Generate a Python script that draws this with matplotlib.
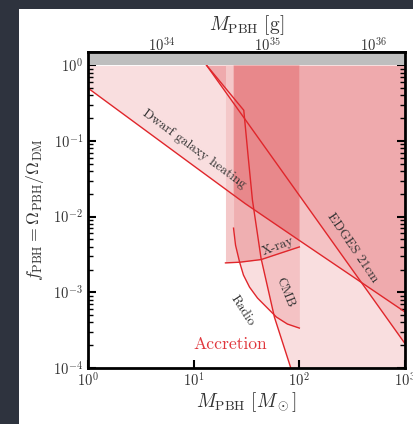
import numpy as np
import matplotlib
matplotlib.use("Agg")
import matplotlib.pyplot as plt
from matplotlib.patches import Rectangle
from matplotlib.ticker import LogLocator, NullLocator, FixedLocator

plt.rcParams.update({
    "font.family": "serif",
    "font.serif": ["cmr10", "DejaVu Serif"],
    "mathtext.fontset": "cm",
    "axes.formatter.use_mathtext": True,
    "axes.unicode_minus": False,
})

# Constraint boundaries on f_PBH versus PBH mass (solar masses)
dwarf_mass = [1, 10, 30.7, 100, 1000]
dwarf_f = [0.50, 0.047, 0.0149, 4.85e-3, 5.5e-4]

edges_mass = [13.25, 1000]
edges_f = [1.0, 2.1e-4]

cmb_mass = [13.26, 29.8, 32.7, 36.0, 43.4, 58.1, 82.3, 120, 1000]
cmb_f = [1.0, 0.2547, 0.0648, 0.0165, 2.83e-3, 4.7e-4, 1.04e-4, 1.5e-5, 1e-8]

xray_mass = [20, 27.2, 43.5, 64.8, 100]
xray_f = [2.45e-3, 2.5e-3, 2.71e-3, 3.26e-3, 3.98e-3]

radio_mass = [23.84, 24.9, 27.2, 29.6, 33.8, 40.2, 49.9, 60.7, 77.1, 100]
radio_f = [7.05e-3, 4.2e-3, 2.51e-3, 1.69e-3, 1.17e-3, 8.4e-4, 6.2e-4, 4.71e-4, 3.81e-4, 3.37e-4]

MSUN_G = 1.989e33
gram_ticks = [1e34, 1e35, 1e36]

labels = ["Dwarf galaxy heating", "X-ray", "CMB", "Radio", "EDGES 21cm"]
label_mass = [10, 63, 73, 29, 316]
label_f = [0.0778, 4.0e-3, 1.0e-3, 5.8e-4, 3.9e-3]
label_rot = [-36.2, 21, -68, -57, -55.7]

RED = "#d9262b"
LINE = "#e0262b"
TXT = "#333333"

fig = plt.figure(figsize=(4.14, 4.24), dpi=100, facecolor="#2e333e")
panel = Rectangle((19 / 414, 0), 1, 1 - 9 / 424, transform=fig.transFigure,
                  facecolor="white", edgecolor="none", zorder=-10)
fig.add_artist(panel)
ax = fig.add_axes([88 / 414, 1 - 368 / 424, (405 - 88) / 414, (368 - 52) / 424])
ax.set_zorder(1)
ax.set_facecolor("white")
ax.set_xscale("log")
ax.set_yscale("log")
ax.set_xlim(1, 1000)
ax.set_ylim(1e-4, 1.5)

# excluded regions
ax.fill_between(dwarf_mass, dwarf_f, 1, color=RED, alpha=0.15, lw=0, zorder=1)
ax.fill_between(edges_mass, edges_f, 1, color=RED, alpha=0.15, lw=0, zorder=1)
ax.fill_between(cmb_mass, cmb_f, 1, color=RED, alpha=0.15, lw=0, zorder=1)
ax.fill_between(xray_mass, xray_f, 1, color="#f4c8c9", lw=0, zorder=2)
radio_fill = ax.fill_between(radio_mass, radio_f, 1, color=RED, alpha=0.15, lw=0, zorder=3)
overlap = ax.fill_between(dwarf_mass, dwarf_f, 1, color=RED, alpha=0.28, lw=0, zorder=4)
overlap.set_clip_path(radio_fill.get_paths()[0], ax.transData)

for m, f in [(dwarf_mass, dwarf_f), (edges_mass, edges_f), (cmb_mass, cmb_f),
             (xray_mass, xray_f), (radio_mass, radio_f)]:
    ax.plot(m, f, color=LINE, lw=1.0, zorder=5)

ax.axhspan(1, 1.5, color="#bebebe", lw=0, zorder=6)

for t, m, f, r in zip(labels, label_mass, label_f, label_rot):
    ax.text(m, f, t, rotation=r, rotation_mode="anchor", ha="center", va="center",
            fontsize=9.6, color=TXT, zorder=7)
ax.text(22.3, 2.07e-4, "Accretion", ha="center", va="center", fontsize=12.7,
        color="#e0363c", zorder=7)

for s in ax.spines.values():
    s.set_linewidth(2.0)
    s.set_zorder(10)

ax.xaxis.set_minor_locator(NullLocator())
ax.yaxis.set_major_locator(LogLocator(base=10, numticks=10))
ax.yaxis.set_minor_locator(LogLocator(base=10, subs=np.arange(2, 10), numticks=20))
ax.tick_params(which="both", direction="in", right=True, top=False, labelcolor=TXT,
               labelsize=10.5)
ax.tick_params(which="major", length=6, width=1.5)
ax.tick_params(which="minor", length=3.5, width=1.0)
ax.tick_params(axis="x", pad=3)

sec = ax.secondary_xaxis("top", functions=(lambda m: m * MSUN_G, lambda g: g / MSUN_G))
sec.xaxis.set_major_locator(FixedLocator(gram_ticks))
sec.xaxis.set_minor_locator(NullLocator())
sec.tick_params(which="major", direction="in", length=6, width=1.5, labelcolor=TXT,
                labelsize=10.5, pad=-2)
sec.spines["top"].set_linewidth(2.0)
sec.set_xlabel(r"$M_{\rm PBH}\ [{\rm g}]$", fontsize=14, color=TXT, labelpad=5)

ax.set_xlabel(r"$M_{\rm PBH}\ [M_\odot]$", fontsize=14, color=TXT, labelpad=0)
ax.set_ylabel(r"$f_{\rm PBH} = \Omega_{\rm PBH}/\Omega_{\rm DM}$", fontsize=12.8,
              color=TXT, labelpad=5)

fig.savefig("out.png", dpi=100, facecolor=fig.get_facecolor())
